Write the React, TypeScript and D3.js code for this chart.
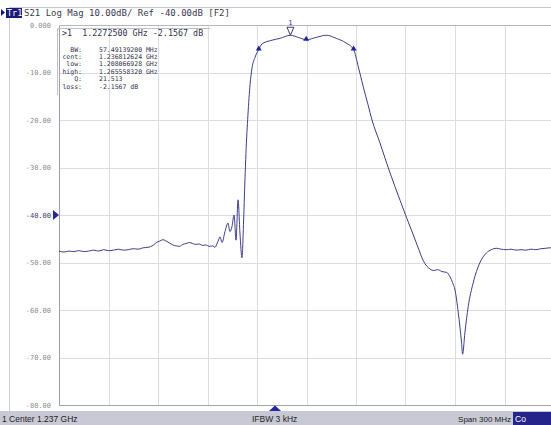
import { useEffect, useRef } from 'react'
import * as d3 from 'd3'

// trace samples: frequency (MHz) and S21 (dB)
const freqMHz = [
  1087, 1090, 1093, 1096, 1099, 1102, 1105, 1108, 1111, 1114, 1117, 1120, 1123, 1126, 1129,
  1132, 1135, 1138, 1141, 1144, 1146, 1148, 1150, 1152, 1154, 1156, 1158, 1160, 1162, 1164,
  1166, 1168, 1170, 1172, 1174, 1176, 1178, 1180, 1181.5, 1183.4, 1184.6, 1185.8, 1187.6,
  1189.4, 1190.6, 1191.8, 1193.1, 1194.3, 1195.5, 1196.7, 1197.9, 1198.8, 1199.7, 1200.3,
  1201.5, 1202.8, 1204, 1205.8, 1208.07, 1210, 1215, 1221, 1227.25, 1232, 1236.8, 1243, 1249,
  1255, 1261, 1265.56, 1268.4, 1271.4, 1274.3, 1276.7, 1281.5, 1286.4, 1290.6, 1293.7, 1297.7,
  1301.5, 1305, 1307.6, 1310, 1312, 1314, 1316.5, 1319, 1322, 1324, 1325.5, 1327, 1329, 1331,
  1331.6, 1333, 1335, 1338, 1342, 1346, 1349, 1352, 1355, 1358, 1361, 1364, 1367, 1370, 1373,
  1376, 1379, 1382, 1385, 1387
]
const s21dB = [
  -47.6, -47.8, -47.6, -47.7, -47.5, -47.7, -47.6, -47.4, -47.6, -47.3, -47.5, -47.4, -47.2, -47.4, -47.3,
  -47.1, -47.2, -46.9, -46.8, -46.4, -45.8, -45.5, -45.2, -45.5, -45.9, -46.3, -46.5, -46.6, -46.2, -46.0,
  -45.8, -46.0, -46.2, -46.1, -46.4, -46.3, -46.6, -46.5, -46.8, -45.5, -44.6, -45.8, -43.5,
  -41.7, -43.5, -42.5, -40.0, -45.3, -36.8, -44.0, -49.0, -42.0, -32.6, -27.0,
  -19.0, -12.5, -9.0, -6.8, -5.16, -4.0, -3.3, -2.8, -2.16, -2.6, -3.1, -2.6, -2.15,
  -2.8, -3.8, -5.16, -8.8, -13.0, -16.8, -20.0, -24.8, -29.9, -34.0, -36.9, -40.6,
  -44.0, -47.2, -49.5, -50.8, -51.4, -51.7, -51.5, -51.9, -52.1, -53.0, -54.2, -55.8, -60.6, -67.0,
  -69.3, -64.8, -59.3, -54.3, -50.1, -48.0, -47.3, -47.0, -47.2, -47.3, -47.2, -47.4, -47.3, -47.4, -47.2,
  -47.3, -47.1, -47.0, -46.9, -46.9
]

const yTicks = [0, -10, -20, -30, -40, -50, -60, -70, -80]
const yTickLabels = ['0.000', '-10.00', '-20.00', '-30.00', '-40.00', '-50.00', '-60.00', '-70.00', '-80.00']
const xGrid = [1087, 1117, 1147, 1177, 1207, 1237, 1267, 1297, 1327, 1357, 1387]

// bandwidth markers (MHz, dB)
const bwMarkers = [
  { f: 1208.066928, db: -5.16 },
  { f: 1236.812624, db: -3.1 },
  { f: 1265.55832, db: -5.16 }
]
const marker1 = { f: 1227.25, db: -2.1567 }

const statLabels = ['BW:', 'cent:', 'low:', 'high:', 'Q:', 'loss:']
const statValues = ['57.49139200 MHz', '1.236812624 GHz', '1.208066928 GHz', '1.265558320 GHz', '21.513', '-2.1567 dB']

export default function App() {
  const svgRef = useRef<SVGSVGElement>(null)

  useEffect(() => {
    if (!svgRef.current) return
    const W = 551
    const H = 425
    const svg = d3.select(svgRef.current)
    svg.selectAll('*').remove()
    svg.attr('width', W).attr('height', H)

    const mono = '"DejaVu Sans Mono", monospace'
    const sans = '"Liberation Sans", Arial, sans-serif'

    const x = d3.scaleLinear().domain([1087, 1387]).range([59, 554])
    const y = d3.scaleLinear().domain([-80, 0]).range([405, 25])

    svg.append('rect').attr('width', W).attr('height', H).attr('fill', '#fff')

    // outer frame
    svg.append('line').attr('x1', 9).attr('x2', W).attr('y1', 7.5).attr('y2', 7.5)
      .attr('stroke', '#c8c8d0')
    svg.append('line').attr('x1', 9.5).attr('x2', 9.5).attr('y1', 7).attr('y2', 411)
      .attr('stroke', '#d0d0d8')

    // header
    svg.append('path').attr('d', 'M1,9 L5,12.5 L1,16 Z').attr('fill', '#1a1a70')
    svg.append('rect').attr('x', 6).attr('y', 8).attr('width', 16).attr('height', 10).attr('fill', '#1c1c78')
    svg.append('text').attr('x', 7).attr('y', 16).attr('font-family', mono).attr('font-size', 8.5)
      .attr('fill', '#fff').text('Tr1')
    svg.append('text').attr('x', 24).attr('y', 16).attr('font-family', mono).attr('font-size', 9)
      .attr('fill', '#3a3a50').text('S21 Log Mag 10.00dB/ Ref -40.00dB [F2]')

    // grid
    const g = svg.append('g')
    g.selectAll('line.h').data(yTicks).enter().append('line')
      .attr('x1', x(1087)).attr('x2', x(1387))
      .attr('y1', d => Math.round(y(d)) + 0.5).attr('y2', d => Math.round(y(d)) + 0.5)
      .attr('stroke', '#dcdce6')
    g.selectAll('line.v').data(xGrid).enter().append('line')
      .attr('x1', d => Math.round(x(d)) + 0.5).attr('x2', d => Math.round(x(d)) + 0.5)
      .attr('y1', y(0)).attr('y2', y(-80))
      .attr('stroke', '#dcdce6')
    // plot border
    g.append('line').attr('x1', 59.5).attr('x2', 59.5).attr('y1', y(0)).attr('y2', y(-80) + 0.5)
      .attr('stroke', '#a0a0a8')
    g.append('line').attr('x1', 59).attr('x2', W).attr('y1', 405.5).attr('y2', 405.5)
      .attr('stroke', '#a0a0a8')
    g.append('line').attr('x1', 59).attr('x2', W).attr('y1', 25.5).attr('y2', 25.5)
      .attr('stroke', '#b8b8c0')

    // y labels
    svg.selectAll('text.yl').data(yTicks).enter().append('text')
      .attr('x', 51).attr('y', d => y(d) + 2.5)
      .attr('text-anchor', 'end').attr('font-family', mono).attr('font-size', 7)
      .attr('fill', d => (d === -40 ? '#404070' : '#8c8c94'))
      .text((d, i) => yTickLabels[i])

    // reference level arrow
    svg.append('path')
      .attr('d', `M53,${y(-40) - 5} L59,${y(-40)} L53,${y(-40) + 5} Z`)
      .attr('fill', '#2626a0')

    // marker info box
    svg.append('path').attr('d', 'M57.5,95 L57.5,28.5 L210,28.5').attr('fill', 'none').attr('stroke', '#c0c0c8')
    svg.append('text').attr('x', 62).attr('y', 36).attr('font-family', mono).attr('font-size', 8.4)
      .attr('fill', '#34344c').attr('xml:space', 'preserve').text('>1  1.2272500 GHz -2.1567 dB')
    statLabels.forEach((lab, i) => {
      const ty = 51.5 + i * 7.4
      svg.append('text').attr('x', 82).attr('y', ty).attr('text-anchor', 'end')
        .attr('font-family', mono).attr('font-size', 6.5).attr('fill', '#34344c').text(lab)
      svg.append('text').attr('x', 99).attr('y', ty)
        .attr('font-family', mono).attr('font-size', 6.5).attr('fill', '#34344c').text(statValues[i])
    })

    // trace
    const pts: [number, number][] = freqMHz.map((f, i) => [f, s21dB[i]])
    const line = d3.line<[number, number]>().x(d => x(d[0])).y(d => y(d[1])).curve(d3.curveMonotoneX)
    svg.append('path').datum(pts).attr('d', line).attr('fill', 'none')
      .attr('stroke', '#3e3e86').attr('stroke-width', 1)

    // bandwidth markers
    bwMarkers.forEach(m => {
      const mx = x(m.f)
      const my = y(m.db)
      svg.append('path').attr('d', `M${mx - 3},${my + 1} L${mx + 3},${my + 1} L${mx},${my - 4} Z`)
        .attr('fill', '#22229a')
    })

    // marker 1
    const m1x = x(marker1.f)
    const m1y = y(marker1.db)
    svg.append('path').attr('d', `M${m1x - 3.5},${m1y - 8} L${m1x + 3.5},${m1y - 8} L${m1x},${m1y} Z`)
      .attr('fill', '#fff').attr('stroke', '#3a3a80').attr('stroke-width', 1)
    svg.append('text').attr('x', m1x).attr('y', m1y - 10).attr('text-anchor', 'middle')
      .attr('font-family', mono).attr('font-size', 7).attr('fill', '#3a3a80').text('1')

    // bottom stimulus marker
    svg.append('path').attr('d', 'M269,411 L281,411 L275,405.5 Z').attr('fill', '#2626a0')

    // status bar
    svg.append('rect').attr('x', 0).attr('y', 411).attr('width', W).attr('height', 14).attr('fill', '#c9c9d6')
    svg.append('text').attr('x', 2).attr('y', 421.5).attr('font-family', sans).attr('font-size', 8.5)
      .attr('fill', '#222').text('1 Center 1.237 GHz')
    svg.append('text').attr('x', 252).attr('y', 421.5).attr('font-family', sans).attr('font-size', 8.5)
      .attr('fill', '#222').text('IFBW 3 kHz')
    svg.append('text').attr('x', 511).attr('y', 421.5).attr('text-anchor', 'end')
      .attr('font-family', sans).attr('font-size', 8).attr('fill', '#222').text('Span 300 MHz')
    svg.append('rect').attr('x', 513).attr('y', 412).attr('width', 38).attr('height', 13).attr('fill', '#24248a')
    svg.append('text').attr('x', 515).attr('y', 421.5).attr('font-family', sans).attr('font-size', 8.5)
      .attr('fill', '#fff').text('Co')
  }, [])

  return (
    <div style={{ position: 'fixed', left: 0, top: 0 }}>
      <svg ref={svgRef} style={{ display: 'block' }}></svg>
    </div>
  )
}
